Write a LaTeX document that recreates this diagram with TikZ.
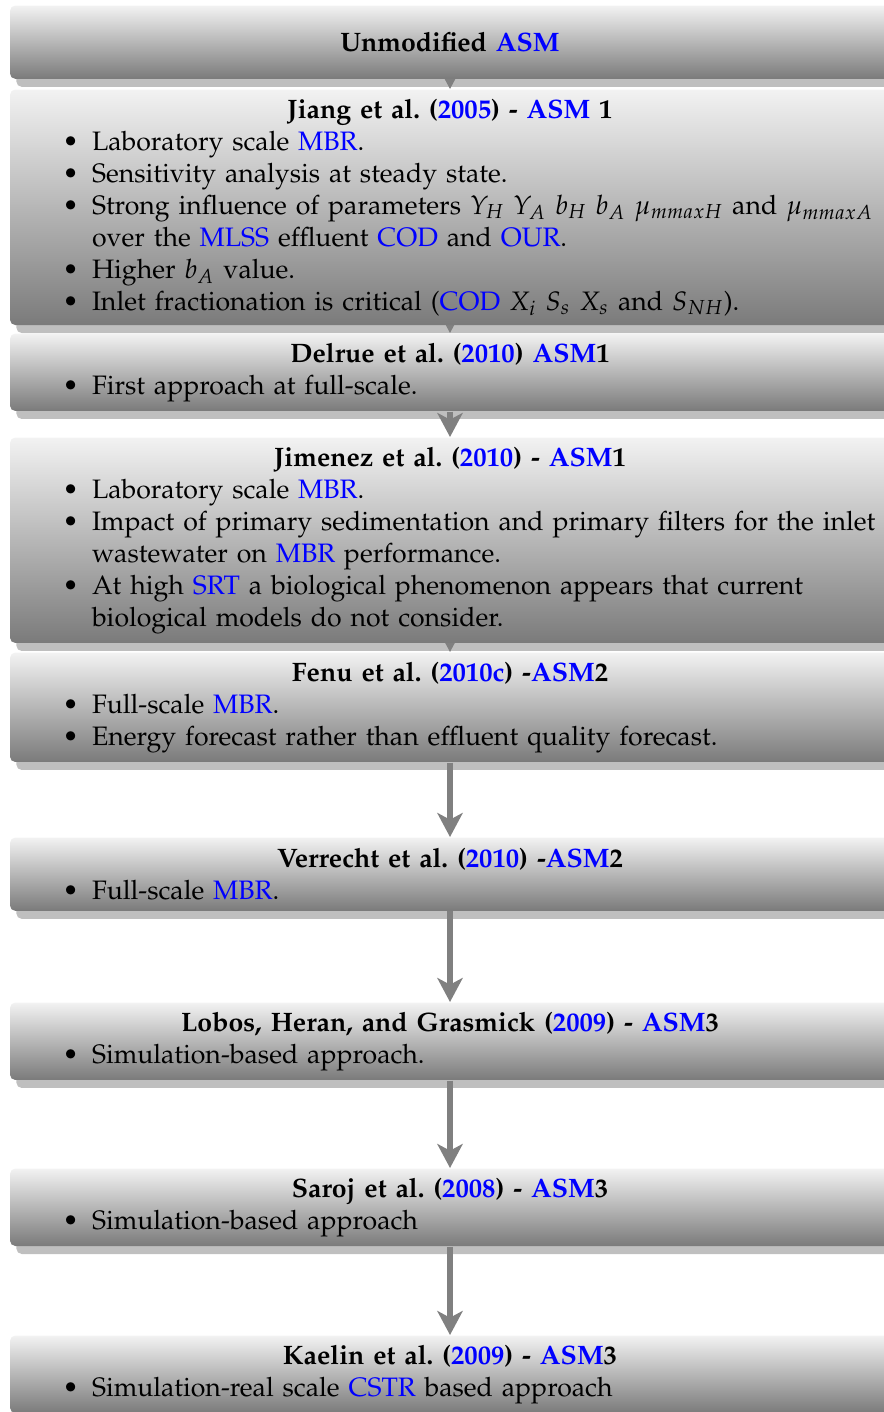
\documentclass[tikz,border=0pt]{standalone}
\usepackage[T1]{fontenc}
\usepackage{mathpazo}
\usepackage{enumitem}
\usetikzlibrary{arrows.meta}
\pgfdeclarelayer{shadowlayer}
\pgfdeclarelayer{arrowlayer}
\pgfsetlayers{shadowlayer,arrowlayer,main}
\setlist[itemize]{nosep,leftmargin=26.75pt,label=\textbullet}
\newcommand{\acr}[1]{\textcolor{blue}{#1}}
\newcommand{\stagetitle}[1]{{\centering\bfseries #1\par}}

\tikzset{
  stage/.style={rectangle, rounded corners=2pt, top color=black!5, bottom color=black!52,
    text width=322pt, inner xsep=4pt, inner ysep=3.5pt, minimum height=27.5pt, anchor=north},
  stageshadow/.style={fill=black!25, rounded corners=2pt},
  flow/.style={draw=black!50, line width=2.6pt, -{Stealth[length=9pt,width=9.5pt,inset=2.5pt]}},
}

\begin{document}
\begin{tikzpicture}[x=0.375pt, y=-0.375pt]
		%%%%% FRAME %%%%%
		\useasboundingbox (0, 0) rectangle (883, 1412);
		
		%%%%% STAGES %%%%%
		\node[stage] (unmod) at (450, 5) {\stagetitle{Unmodified \acr{ASM}}};
		
		\node[stage] (jiang) at (450, 89) {\stagetitle{Jiang et al.\ (\acr{2005}) - \acr{ASM} 1}
			\begin{itemize}\raggedright
				\item Laboratory scale \acr{MBR}.
				\item Sensitivity analysis at steady state.
				\item Strong influence of parameters $Y_H$ $Y_A$ $b_H$ $b_A$ $\mu_{mmaxH}$ and $\mu_{mmaxA}$ over the \acr{MLSS} effluent \acr{COD} and \acr{OUR}.
				\item Higher $b_A$ value.
				\item Inlet fractionation is critical (\acr{COD} $X_i$ $S_s$ $X_s$ and $S_{NH}$).
			\end{itemize}};
		
		\node[stage] (delrue) at (450, 333) {\stagetitle{Delrue et al.\ (\acr{2010}) \acr{ASM}1}
			\begin{itemize}\raggedright
				\item First approach at full-scale.
			\end{itemize}};
		
		\node[stage] (jimenez) at (450, 437) {\stagetitle{Jimenez et al.\ (\acr{2010}) - \acr{ASM}1}
			\begin{itemize}\raggedright
				\item Laboratory scale \acr{MBR}.
				\item Impact of primary sedimentation and primary filters for the inlet wastewater on \acr{MBR} performance.
				\item At high \acr{SRT} a biological phenomenon appears that current biological models do not consider.
			\end{itemize}};
		
		\node[stage] (fenu) at (450, 652) {\stagetitle{Fenu et al.\ (\acr{2010c}) -\acr{ASM}2}
			\begin{itemize}\raggedright
				\item Full-scale \acr{MBR}.
				\item Energy forecast rather than effluent quality forecast.
			\end{itemize}};
		
		\node[stage] (verrecht) at (450, 837) {\stagetitle{Verrecht et al.\ (\acr{2010}) -\acr{ASM}2}
			\begin{itemize}\raggedright
				\item Full-scale \acr{MBR}.
			\end{itemize}};
		
		\node[stage] (lobos) at (450, 1002) {\stagetitle{Lobos, Heran, and Grasmick (\acr{2009}) - \acr{ASM}3}
			\begin{itemize}\raggedright
				\item Simulation-based approach.
			\end{itemize}};
		
		\node[stage] (saroj) at (450, 1168) {\stagetitle{Saroj et al.\ (\acr{2008}) - \acr{ASM}3}
			\begin{itemize}\raggedright
				\item Simulation-based approach
			\end{itemize}};
		
		\node[stage] (kaelin) at (450, 1335) {\stagetitle{Kaelin et al.\ (\acr{2009}) - \acr{ASM}3}
			\begin{itemize}\raggedright
				\item Simulation-real scale \acr{CSTR} based approach
			\end{itemize}};
		
		%%%%% SHADOWS %%%%%
		\begin{pgfonlayer}{shadowlayer}
			\foreach \b in {unmod, jiang, delrue, jimenez, fenu, verrecht, lobos, saroj, kaelin}
				\fill[stageshadow] ([shift={(2.6pt,-2.8pt)}]\b.south west) rectangle ([shift={(2.6pt,-2.8pt)}]\b.north east);
		\end{pgfonlayer}
		
		%%%%% ARROWS %%%%%
		\begin{pgfonlayer}{arrowlayer}
			\draw[flow] (unmod) -- (jiang);
			\draw[flow] (jiang) -- (delrue);
			\draw[flow] (delrue) -- (jimenez);
			\draw[flow] (jimenez) -- (fenu);
			\draw[flow] (fenu) -- (verrecht);
			\draw[flow] (verrecht) -- (lobos);
			\draw[flow] (lobos) -- (saroj);
			\draw[flow] (saroj) -- (kaelin);
		\end{pgfonlayer}
	\end{tikzpicture}
\end{document}
